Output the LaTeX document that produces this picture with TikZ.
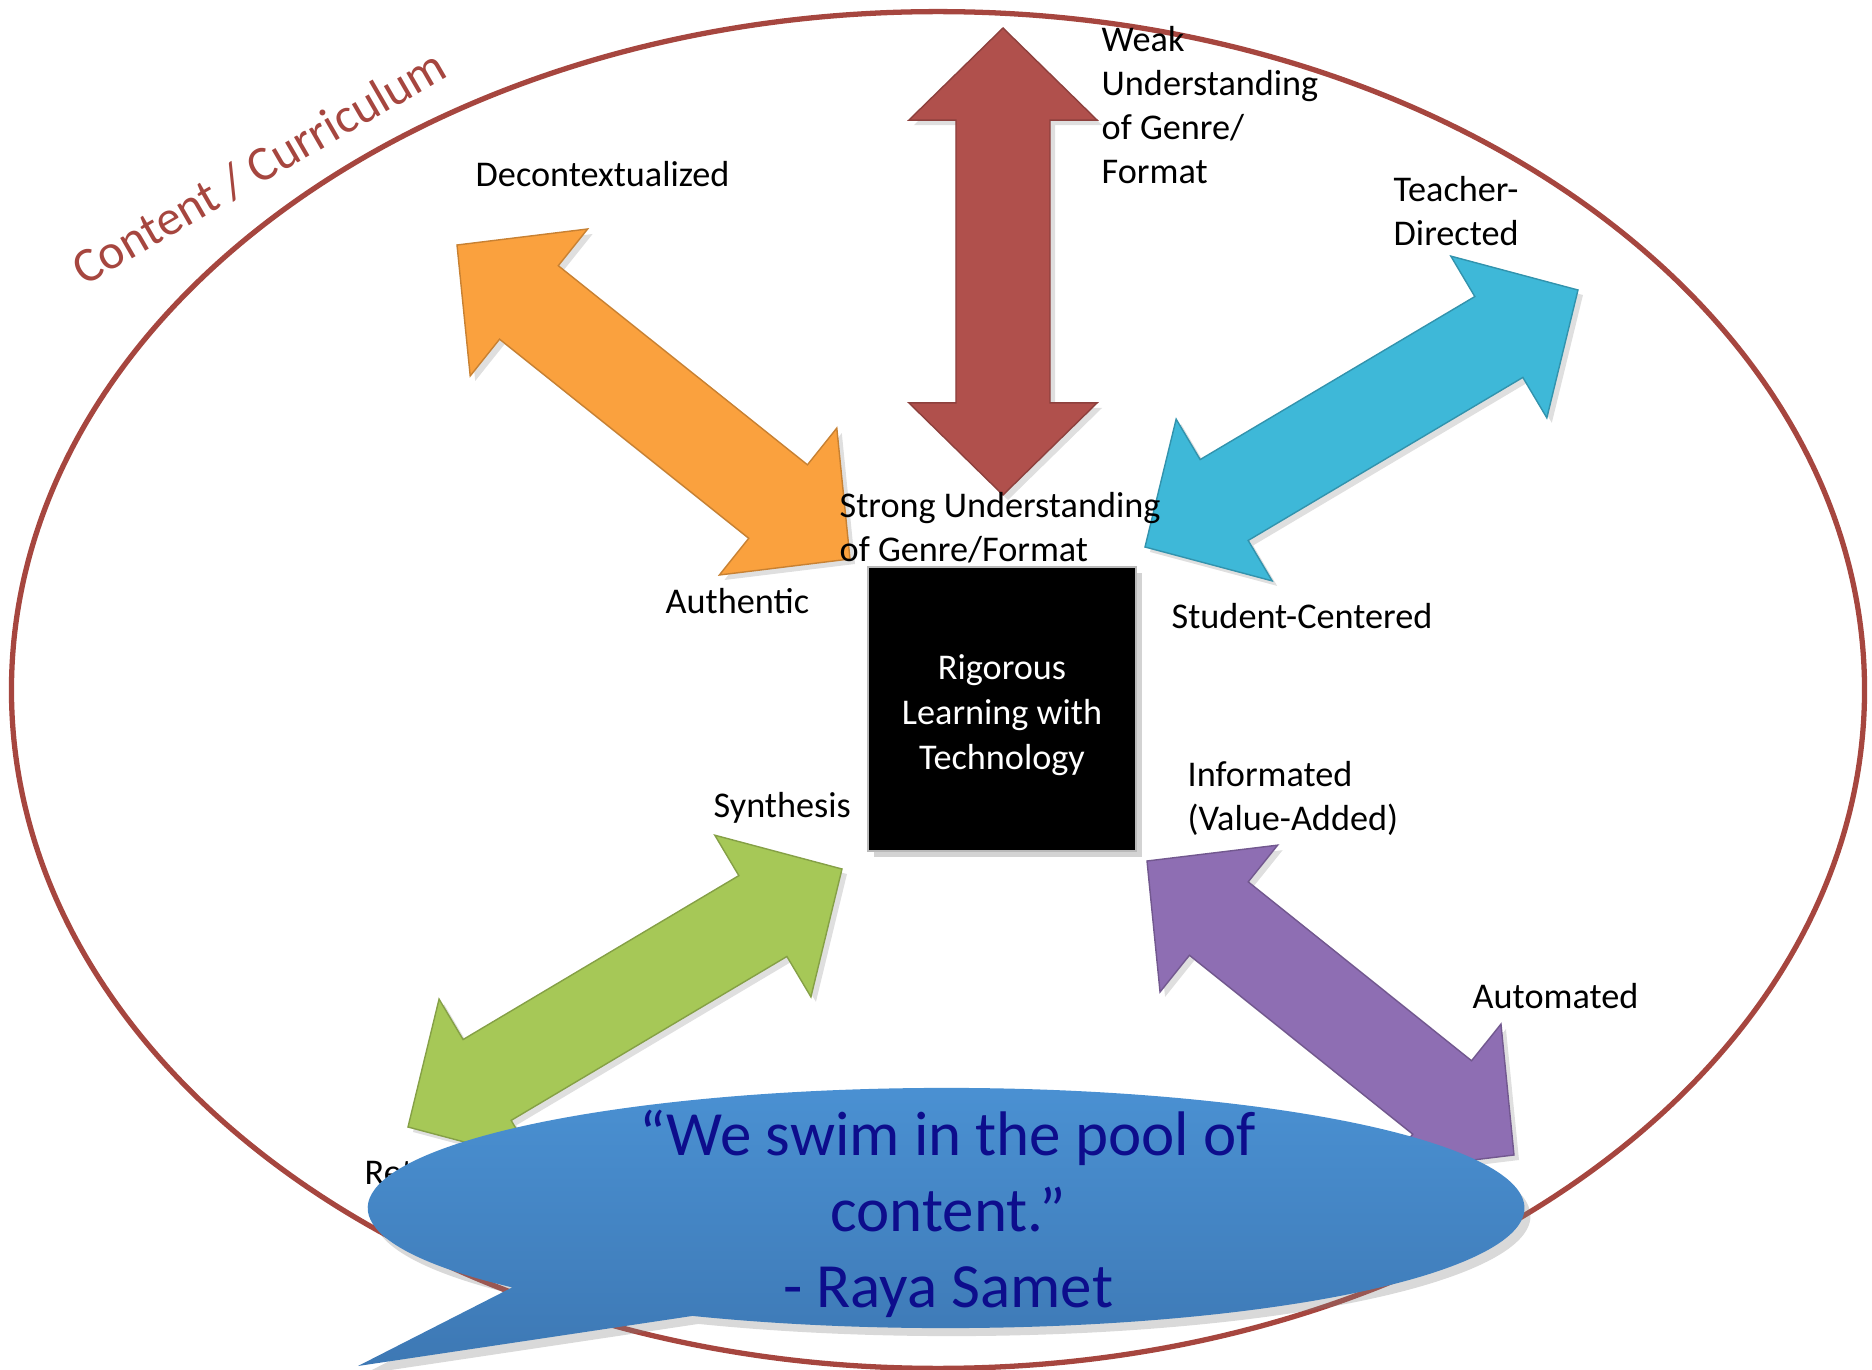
\documentclass[tikz,border=0pt]{standalone}
\usepackage{fontspec}
\setmainfont{Carlito}
\usetikzlibrary{calc,shadows,positioning}
\definecolor{RimRed}{HTML}{A6463F}
\definecolor{ArrowRed}{HTML}{B0504C}
\definecolor{ArrowOrange}{HTML}{FAA13E}
\definecolor{ArrowCyan}{HTML}{3EB8D8}
\definecolor{ArrowGreen}{HTML}{A6C857}
\definecolor{ArrowPurple}{HTML}{8E6EB3}
\definecolor{BubbleTop}{HTML}{4B92D4}
\definecolor{BubbleBottom}{HTML}{3D78B4}
\definecolor{QuoteInk}{HTML}{0D0D8C}
\tikzset{
  rim/.style={draw=RimRed, line width=1.5pt},
  rimtext/.style={text=RimRed, inner sep=0pt, font=\fontsize{14}{17}\selectfont},
  barrow/.style={fill=#1, draw=#1!80!black, line width=0.4pt, drop shadow={opacity=0.25, shadow xshift=0.5mm, shadow yshift=-0.5mm}},
  polelabel/.style={anchor=west, align=left, inner sep=0pt, font=\fontsize{10.3}{12.5}\selectfont},
  corebox/.style={fill=black, draw=gray!55, line width=0.6pt, minimum width=2.67cm, minimum height=2.83cm, drop shadow={opacity=0.35, shadow xshift=0.6mm, shadow yshift=-0.6mm}},
  coretext/.style={text=white, align=center, inner sep=0pt, font=\fontsize{10.3}{12.7}\selectfont},
  bubble/.style={top color=BubbleTop, bottom color=BubbleBottom, drop shadow={opacity=0.3, shadow xshift=0.6mm, shadow yshift=-0.8mm}},
  quotetext/.style={text=QuoteInk, align=center, inner sep=0pt, font=\fontsize{17.9}{21.6}\selectfont}
}
% double block arrow between two named points
\newcommand{\blockarrow}[3]{%
  \pgfmathanglebetweenpoints{\pgfpointanchor{#2}{center}}{\pgfpointanchor{#3}{center}}%
  \let\barang\pgfmathresult
  \pgfpointdiff{\pgfpointanchor{#2}{center}}{\pgfpointanchor{#3}{center}}%
  \pgfgetlastxy{\bardx}{\bardy}%
  \pgfmathsetlengthmacro{\barlen}{veclen(\bardx,\bardy)}%
  \begin{scope}[shift={(#2)}, rotate=\barang]
    \path[#1] (0pt,0pt) -- (0.92cm,0.94cm) -- (0.92cm,0.47cm) -- ({\barlen-0.92cm},0.47cm)
      -- ({\barlen-0.92cm},0.94cm) -- (\barlen,0pt) -- ({\barlen-0.92cm},-0.94cm)
      -- ({\barlen-0.92cm},-0.47cm) -- (0.92cm,-0.47cm) -- (0.92cm,-0.94cm) -- cycle;
  \end{scope}}

\begin{document}
\begin{tikzpicture}[x=0.01cm, y=-0.01cm]
    \useasboundingbox (0,0) rectangle (1872,1370);

    % content ellipse
    \draw[rim] (938,690) ellipse[x radius=9.26cm, y radius=6.78cm];
    \node[rimtext, rotate=30] (curr) at (259,167) {Content / Curriculum};

    % arrow ends
    \coordinate (weakEnd) at (1003,28);
    \coordinate (strongEnd) at (1003,495);
    \coordinate (deconEnd) at (457,245);
    \coordinate (authEnd) at (850,559);
    \coordinate (studEnd) at (1145,547);
    \coordinate (teachEnd) at (1578,290);
    \coordinate (retEnd) at (408,1127);
    \coordinate (synEnd) at (842,869);
    \coordinate (infoEnd) at (1147,861);
    \coordinate (autoEnd) at (1514,1155);

    \blockarrow{barrow=ArrowRed}{strongEnd}{weakEnd}
    \blockarrow{barrow=ArrowOrange}{deconEnd}{authEnd}
    \blockarrow{barrow=ArrowCyan}{studEnd}{teachEnd}
    \blockarrow{barrow=ArrowGreen}{retEnd}{synEnd}
    \blockarrow{barrow=ArrowPurple}{infoEnd}{autoEnd}

    % pole labels
    \node[polelabel] (weak) at (1101,105) {Weak\\Understanding\\of Genre/\\Format};
    \node[polelabel] (strong) at (839,528) {Strong Understanding\\of Genre/Format};
    \node[polelabel] (decon) at (475,174) {Decontextualized};
    \node[polelabel] (auth) at (665,601) {Authentic};
    \node[polelabel] (teach) at (1393,211) {Teacher-\\Directed};
    \node[polelabel] (stud) at (1171,616) {Student-Centered};
    \node[polelabel] (syn) at (713,808) {Synthesis};
    \node[polelabel] (ret) at (364,1172) {Retrieval};
    \node[polelabel] (info) at (1187,798) {Informated\\(Value-Added)};
    \node[polelabel] (auto) at (1472,996) {Automated};

    % centre
    \node[corebox] (core) at (1002,709) {};
    \node[coretext] (corelabel) at (1002,715) {Rigorous\\Learning with\\Technology};

    % quote bubble
    \coordinate (qc) at (946,1208);
    \coordinate (tail) at (358,1366);
    \path[bubble] ($(qc)+(244:5.78cm and 1.2cm)$)
      arc[start angle=244, end angle=581.4, x radius=5.78cm, y radius=1.2cm]
      -- (tail) -- cycle;
    \node[quotetext] (quote) at (948,1214) {“We swim in the pool of\\content.”\\- Raya Samet};
\end{tikzpicture}
\end{document}
